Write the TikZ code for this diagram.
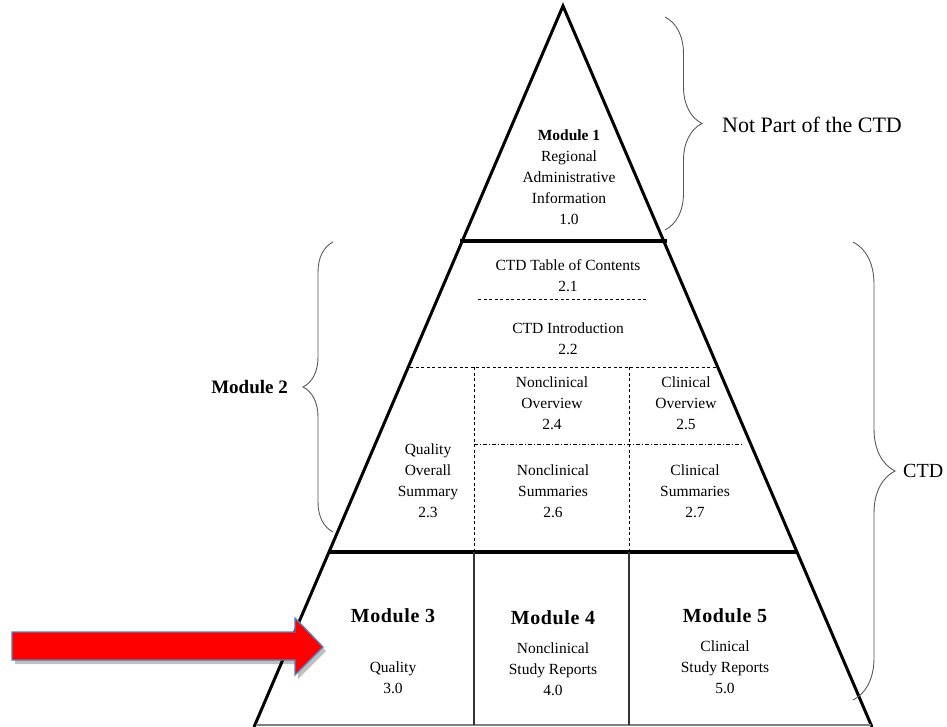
\documentclass[tikz,border=0pt]{standalone}
\usepackage{fontspec}
\setmainfont{Liberation Serif}
\usetikzlibrary{calc,decorations.pathreplacing,shadows}

\tikzset{
  txt/.style={align=center, inner sep=0pt, font=\fontsize{15.5}{21}\selectfont},
  modtitle/.style={inner sep=0pt, font=\fontsize{20}{22}\selectfont\bfseries\addfontfeature{LetterSpace=3}},
  sidetxt/.style={inner sep=0pt, font=\fontsize{22}{26}\selectfont},
  rim/.style={line width=3pt},
  bar/.style={line width=3.5pt},
  thin/.style={line width=1.1pt, black!80},
  dotted/.style={line width=0.9pt, dash pattern=on 3pt off 2.5pt},
  dashdot/.style={line width=0.9pt, dash pattern=on 4pt off 2pt on 1pt off 2pt},
  curly/.style={decorate, line width=0.9pt, gray!70!black},
}

\begin{document}
\begin{tikzpicture}[x=1pt, y=-1pt]
  \useasboundingbox (0,0) rectangle (947,727);

  % pyramid outline
  \coordinate (apex) at (563,6);
  \coordinate (bl) at (254,727);
  \coordinate (br) at (872,727);
  \coordinate (gl) at (256,725);
  \coordinate (gr) at (871,725);
  \draw[rim, line join=miter] (bl) -- (apex) -- (br);
  \draw[line width=1.2pt, gray] (gl) -- (gr);

  % levels
  \coordinate (l1) at (460,241);   \coordinate (r1) at (667,241);
  \coordinate (l2) at (330,552);   \coordinate (r2) at (796,552);
  \draw[bar] (l1) -- (r1);
  \draw[bar] (l2) -- (r2);

  \coordinate (d1a) at (478,299);  \coordinate (d1b) at (646,299);
  \coordinate (d2a) at (410,367);  \coordinate (d2b) at (716,367);
  \draw[dotted] (d1a) -- (d1b);
  \draw[dotted] (d2a) -- (d2b);

  \coordinate (v1t) at (474,367);  \coordinate (v1m) at (474,552);  \coordinate (v1b) at (474,725);
  \coordinate (v2t) at (629,367);  \coordinate (v2m) at (629,552);  \coordinate (v2b) at (629,725);
  \draw[dotted] (v1t) -- (v1m);
  \draw[dotted] (v2t) -- (v2m);
  \draw[thin] (v1m) -- (v1b);
  \draw[thin] (v2m) -- (v2b);

  \coordinate (hd1) at (474,444);  \coordinate (hd2) at (743,444);
  \draw[dashdot] (hd1) -- (hd2);

  % module 1
  \node[txt] (m1) at (569,177) {\textbf{Module 1}\\Regional\\Administrative\\Information\\1.0};

  % module 2
  \node[txt] (toc)   at (568,276) {CTD Table of Contents\\2.1};
  \node[txt] (intro) at (568,339) {CTD Introduction\\2.2};
  \node[txt] (ncov)  at (552,403) {Nonclinical\\Overview\\2.4};
  \node[txt] (clov)  at (686,403) {Clinical\\Overview\\2.5};
  \node[txt] (qos)   at (428,481) {Quality\\Overall\\Summary\\2.3};
  \node[txt] (ncsum) at (553,491) {Nonclinical\\Summaries\\2.6};
  \node[txt] (clsum) at (695,491) {Clinical\\Summaries\\2.7};

  % modules 3-5
  \node[modtitle] (m3) at (393,616) {Module 3};
  \node[txt] (m3t) at (393,678) {Quality\\3.0};
  \node[modtitle] (m4) at (553,618) {Module 4};
  \node[txt] (m4t) at (553,669) {Nonclinical\\Study Reports\\4.0};
  \node[modtitle] (m5) at (725,616) {Module 5};
  \node[txt] (m5t) at (725,667) {Clinical\\Study Reports\\5.0};

  % braces
  \coordinate (b1a) at (665,17);   \coordinate (b1b) at (665,230);
  \draw[curly, decoration={brace, amplitude=37pt}] (b1a) -- (b1b);
  \node[sidetxt, anchor=west] (notctd) at (722,125) {Not Part of the CTD};

  \coordinate (b2a) at (333,532);  \coordinate (b2b) at (333,242);
  \draw[curly, decoration={brace, amplitude=30pt}] (b2a) -- (b2b);
  \node[sidetxt, anchor=east, font=\fontsize{19}{22}\selectfont\bfseries] (mod2) at (288,387) {Module 2};

  \coordinate (b3a) at (853,242);  \coordinate (b3b) at (853,700);
  \draw[curly, decoration={brace, amplitude=42pt}] (b3a) -- (b3b);
  \node[sidetxt, anchor=west, font=\fontsize{20}{24}\selectfont] (ctd) at (903,471) {CTD};

  % pointer
  \fill[black, opacity=0.25] (15,636) -- (298,636) -- (298,622) -- (326,651) -- (298,679) -- (298,664) -- (15,664) -- cycle;
  \draw[fill=red, draw={rgb,255:red,79;green,129;blue,189}, line width=1.3pt, line join=miter]
    (12,632) -- (295,632) -- (295,618) -- (323,647) -- (295,675) -- (295,660) -- (12,660) -- cycle;

\end{tikzpicture}
\end{document}
